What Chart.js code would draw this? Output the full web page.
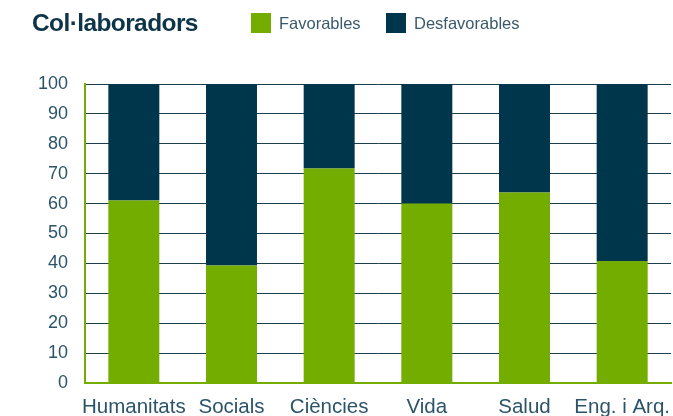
<!DOCTYPE html>
<html>
<head>
<meta charset="utf-8">
<script src="https://cdn.jsdelivr.net/npm/chart.js@4.4.1/dist/chart.umd.min.js"></script>
<style>
  body { margin: 0; background: #fff; font-family: "Liberation Sans", Arial, sans-serif; }
  #wrap { position: relative; width: 673px; height: 416px; }
  #title { position: absolute; left: 32px; top: 9px; font-size: 24.5px; font-weight: bold; color: #0d3447; letter-spacing: -0.6px; }
  .key { position: absolute; top: 13px; height: 20px; font-size: 16.5px; color: #3a5a6c; line-height: 20px; }
  .key span { display: inline-block; width: 20px; height: 20px; vertical-align: top; margin-right: 8px; }
</style>
</head>
<body>
<div id="wrap">
  <canvas id="chart" width="673" height="416"></canvas>
  <div id="title">Col·laboradors</div>
  <div class="key" style="left:251px"><span style="background:#72ad00"></span>Favorables</div>
  <div class="key" style="left:386px"><span style="background:#00364c"></span>Desfavorables</div>
</div>
<script>
const categories = ['Humanitats', 'Socials', 'Ciències', 'Vida', 'Salud', 'Eng. i Arq.'];
const favorables = [61, 39.3, 71.7, 60, 63.7, 40.8];
const desfavorables = [39, 60.7, 28.3, 40, 36.3, 59.2];
const yTicks = [0, 10, 20, 30, 40, 50, 60, 70, 80, 90, 100];

const green = '#72ad00';
const navy = '#00364c';
const textColor = '#2b5469';

new Chart(document.getElementById('chart'), {
    type: 'bar',
    data: {
        labels: categories,
        datasets: [
            { label: 'Favorables', data: favorables, backgroundColor: green, barPercentage: 0.522, categoryPercentage: 1 },
            { label: 'Desfavorables', data: desfavorables, backgroundColor: navy, barPercentage: 0.522, categoryPercentage: 1 }
        ]
    },
    options: {
        responsive: false,
        animation: false,
        layout: { padding: { top: 84, right: 2, left: 0, bottom: 0 } },
        plugins: { legend: { display: false }, tooltip: { enabled: false } },
        scales: {
            x: {
                stacked: true,
                grid: { display: false },
                border: { color: green, width: 2 },
                ticks: { color: textColor, font: { size: 20.5, family: 'Liberation Sans' }, padding: 4, maxRotation: 0, autoSkip: false },
                afterFit: function(scale) {
                    scale.height = 33;
                    scale.paddingLeft = 0;
                    scale.paddingRight = 0;
                }
            },
            y: {
                stacked: true,
                min: 0,
                max: 100,
                z: 1,
                afterBuildTicks: function(scale) { scale.ticks = yTicks.map(function(v) { return { value: v }; }); },
                grid: {
                    drawTicks: false,
                    lineWidth: 1,
                    color: function(ctx) { return ctx.tick && ctx.tick.value === 0 ? 'rgba(0,0,0,0)' : '#1c3f50'; }
                },
                border: { color: green, width: 2 },
                ticks: { color: textColor, font: { size: 18, family: 'Liberation Sans' }, padding: 17 },
                afterFit: function(scale) { scale.width = 85; }
            }
        }
    }
});
</script>
</body>
</html>
